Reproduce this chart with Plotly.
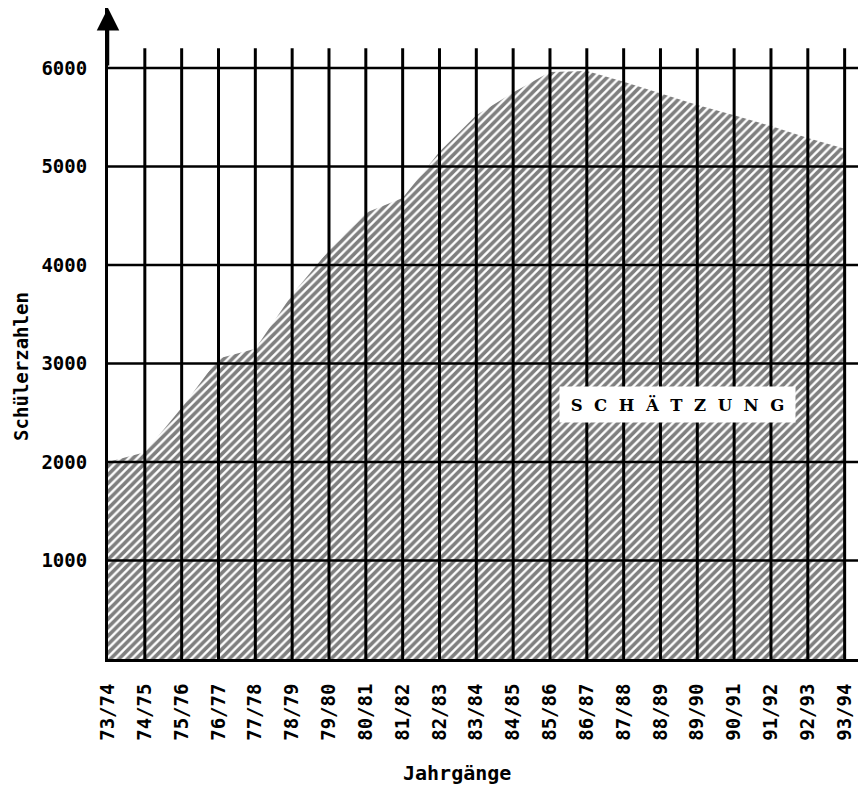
import plotly.graph_objects as go

categories = ["73/74", "74/75", "75/76", "76/77", "77/78", "78/79", "79/80",
              "80/81", "81/82", "82/83", "83/84", "84/85", "85/86", "86/87",
              "87/88", "88/89", "89/90", "90/91", "91/92", "92/93", "93/94"]
schueler = [2000, 2100, 2550, 3050, 3150, 3700, 4150, 4530, 4680, 5150, 5520,
            5750, 5960, 5970, 5860, 5745, 5625, 5520, 5410, 5290, 5180]
y_ticks = [1000, 2000, 3000, 4000, 5000, 6000]

idx = list(range(len(categories)))
FONT = "DejaVu Sans Mono"

fig = go.Figure()
fig.add_trace(go.Scatter(
    x=idx, y=schueler, mode="lines", line=dict(width=0, color="black"),
    fill="tozeroy", fillcolor="white",
    fillpattern=dict(shape="/", size=6, solidity=0.6, fgcolor="black",
                     bgcolor="white"),
    hoverinfo="skip", showlegend=False,
))

x_max = 20.58
y_max = 6609
grid_top = 6200
grid_right = 20.45

shapes = []
for i in idx[1:]:
    shapes.append(dict(type="line", xref="x", yref="y", x0=i, x1=i, y0=0,
                       y1=grid_top, line=dict(color="black", width=3),
                       layer="above"))
for v in y_ticks:
    shapes.append(dict(type="line", xref="x", yref="y", x0=0, x1=grid_right,
                       y0=v, y1=v, line=dict(color="black", width=2.5),
                       layer="above"))

label = "\u2002\u2009".join("SCHÄTZUNG")

annotations = [
    dict(x=0, y=y_max, xref="x", yref="y", ax=0, ay=y_max - 600,
         axref="x", ayref="y", text="", showarrow=True, arrowhead=2,
         arrowsize=1.8, arrowwidth=2.5, arrowcolor="black", standoff=0),
    dict(x=15.47, y=2580, xref="x", yref="y", text=label,
         showarrow=False, bgcolor="white", width=235, height=35, borderpad=0,
         font=dict(family="DejaVu Serif", size=16.5, color="black",
                   weight="bold")),
    dict(x=-0.115, y=0.45, xref="paper", yref="paper", text="Schülerzahlen",
         textangle=-90, showarrow=False, xanchor="center", yanchor="middle",
         font=dict(family=FONT, size=19, color="black", weight="bold")),
    dict(x=0.46, y=-0.175, xref="paper", yref="paper", text="Jahrgänge",
         showarrow=False, xanchor="center", yanchor="middle",
         font=dict(family=FONT, size=20, color="black", weight="bold")),
]

fig.update_layout(
    width=858, height=780,
    margin=dict(l=100, r=0, t=0, b=129, autoexpand=False),
    paper_bgcolor="white", plot_bgcolor="white",
    shapes=shapes, annotations=annotations,
    xaxis=dict(range=[0, x_max], tickmode="array", tickvals=idx,
               ticktext=categories, tickangle=-90, showgrid=False,
               zeroline=False, showline=True, linecolor="black", linewidth=3,
               ticks="", ticklabelstandoff=14,
               tickfont=dict(family=FONT, size=19, color="black",
                             weight="bold")),
    yaxis=dict(range=[0, y_max], tickmode="array", tickvals=y_ticks,
               showgrid=False, zeroline=False, showline=True,
               linecolor="black", linewidth=3, ticks="",
               ticklabelstandoff=14,
               tickfont=dict(family=FONT, size=19, color="black",
                             weight="bold")),
)

fig.write_html("out.html")
